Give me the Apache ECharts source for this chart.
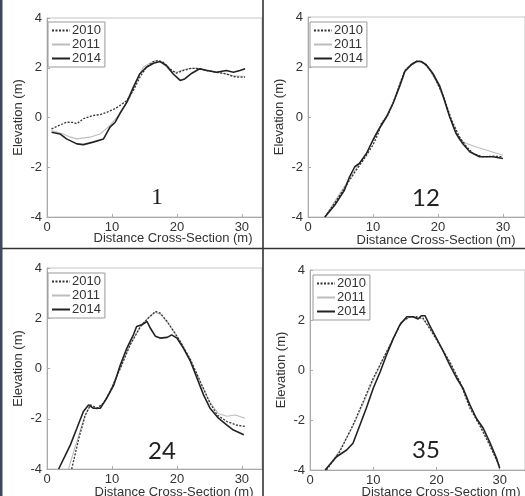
<!DOCTYPE html>
<html>
<head>
<meta charset="utf-8">
<script src="https://cdn.jsdelivr.net/npm/echarts@6/dist/echarts.min.js"></script>
<style>
  html, body { margin: 0; padding: 0; background: #fff; }
  #main { width: 525px; height: 496px; }
</style>
</head>
<body>
<div id="main"></div>
<script>
// 年份 / 刻度
const years = ['2010', '2011', '2014'];
const xTicks = [0, 10, 20, 30];
const yTicks = [-4, -2, 0, 2, 4];
const panelLabels = ['1', '12', '24', '35'];

// 剖面 1
const p1_2010 = [[0.7,-0.46],[2,-0.3],[3,-0.19],[4,-0.2],[4.6,-0.25],[5.6,-0.05],[7.1,0.08],[8.2,0.12],[9.2,0.21],[10.2,0.32],[11,0.44],[12.3,0.68],[13.3,1.09],[14.3,1.62],[15.3,2.02],[16.4,2.25],[17.1,2.29],[17.9,2.22],[18.9,1.96],[19.9,1.78],[21,1.89],[22.3,1.98],[23.5,1.96],[24.6,1.89],[26.1,1.82],[27.6,1.75],[28.7,1.65],[29.5,1.62],[30.5,1.62]];
const p1_2011 = [[0.7,-0.52],[2.5,-0.66],[3.5,-0.78],[4.6,-0.86],[6.6,-0.79],[8.2,-0.66],[9.7,-0.32],[11.2,0.15],[12.8,0.82],[13.8,1.49],[14.8,2.02],[16.1,2.22],[16.9,2.29],[17.9,2.16],[18.9,1.89],[19.9,1.82],[21.5,1.96],[23,1.98],[24.6,1.92],[26.1,1.82],[27.6,1.75],[28.7,1.68],[30.5,1.65]];
const p1_2014 = [[0.7,-0.59],[2,-0.66],[3,-0.86],[4.6,-1.06],[5.6,-1.09],[7.1,-0.99],[8.7,-0.86],[9.7,-0.39],[10.5,-0.19],[11.2,0.15],[12.3,0.62],[13.3,1.22],[14.3,1.76],[15.3,2.02],[16.4,2.18],[17.4,2.25],[18.4,2.09],[19.4,1.76],[20.5,1.49],[21.2,1.55],[22.3,1.78],[23.5,1.96],[24.6,1.89],[26.1,1.82],[27.6,1.89],[28.7,1.82],[29.7,1.89],[30.5,1.96]];

// 剖面 12
const p2_2010 = [[2.6,-4],[4.4,-3.33],[6.4,-2.53],[7.4,-2.13],[8.5,-1.73],[10,-1.12],[10.8,-0.66],[11.3,-0.25],[12.3,0.08],[13.1,0.55],[14.1,1.3],[14.9,1.85],[15.9,2.1],[16.9,2.25],[17.6,2.2],[18.4,2.02],[19.4,1.65],[20.8,0.85],[22.1,-0.12],[23.3,-0.79],[24.4,-1.19],[25.4,-1.46],[26.9,-1.59],[28.5,-1.57],[30,-1.59]];
const p2_2011 = [[2.6,-4],[4.9,-3.06],[6.9,-2.26],[9,-1.46],[10.5,-0.66],[12.1,0.05],[13.1,0.6],[14.1,1.3],[15,1.9],[16,2.15],[16.9,2.25],[17.8,2.15],[18.9,1.8],[20.2,1.2],[21.3,0.4],[22.5,-0.52],[23.3,-0.92],[24.4,-1.06],[25.9,-1.2],[27.4,-1.32],[30,-1.53]];
const p2_2014 = [[2.6,-4],[4.1,-3.53],[5.6,-2.93],[6.4,-2.39],[7.2,-1.99],[7.9,-1.86],[9,-1.46],[10,-0.92],[11,-0.45],[12.1,0.01],[13.1,0.55],[14.1,1.22],[14.9,1.82],[15.9,2.09],[16.7,2.22],[17.4,2.22],[18.2,2.09],[19.2,1.75],[20.3,1.22],[21,0.68],[21.8,0.01],[22.8,-0.66],[23.8,-1.06],[24.9,-1.39],[26.4,-1.59],[28.5,-1.59],[30,-1.66]];

// 剖面 24
const p3_2010 = [[3.8,-4],[4.9,-2.78],[5.9,-1.85],[6.7,-1.45],[7.7,-1.58],[8.7,-1.38],[9.7,-0.92],[11.3,0.01],[12.8,0.94],[14.4,1.67],[15.6,2.01],[16.7,2.27],[17.4,2.21],[18.5,1.87],[19.5,1.48],[20.5,1.08],[22.1,0.35],[23.6,-0.52],[25.1,-1.38],[26.2,-1.85],[27.7,-2.11],[29.2,-2.25],[30.5,-2.31]];
const p3_2011 = [[3.3,-4],[4.6,-2.9],[5.8,-1.9],[6.6,-1.5],[7.7,-1.62],[8.8,-1.35],[9.8,-0.85],[11.3,0.05],[12.8,0.95],[14.4,1.7],[15.6,2.02],[16.7,2.24],[17.5,2.15],[18.6,1.82],[19.6,1.45],[20.6,1.05],[22.1,0.3],[23.6,-0.55],[25.1,-1.35],[26.4,-1.8],[27.7,-1.9],[29,-1.85],[30.5,-1.98]];
const p3_2014 = [[1.8,-4],[3.6,-3.04],[4.6,-2.38],[5.6,-1.71],[6.4,-1.45],[7.1,-1.58],[8.2,-1.58],[9.2,-1.18],[10.3,-0.65],[11.3,0.15],[12.3,0.81],[13.3,1.34],[13.8,1.67],[14.6,1.74],[15.4,1.87],[15.9,1.61],[16.7,1.28],[17.4,1.21],[18.5,1.24],[19.2,1.34],[20,1.21],[21,0.81],[22.1,0.28],[23.1,-0.39],[24.1,-1.05],[25.1,-1.58],[26.4,-1.98],[27.7,-2.25],[28.7,-2.45],[30.3,-2.64]];

// 剖面 35
const p4_2010 = [[2.6,-4],[4.7,-3.27],[6.8,-2.2],[8.4,-1.27],[10,-0.33],[11.6,0.47],[13.2,1.27],[14.5,1.93],[15.8,2.13],[16.8,2.13],[17.9,2.07],[18.9,1.67],[20.5,1],[22.1,0.33],[23.7,-0.47],[25.3,-1.53],[26.8,-2.2],[28.4,-3],[30,-3.87]];
const p4_2011 = [[2.4,-4],[4.5,-3.3],[6.7,-2.3],[8.4,-1.35],[10,-0.4],[11.6,0.45],[13.2,1.3],[14.4,1.9],[15.6,2.1],[16.8,2.1],[17.8,2.05],[18.9,1.7],[20.5,1.05],[22.1,0.3],[23.7,-0.5],[25.3,-1.45],[26.8,-2.15],[28.4,-2.95],[30,-3.9]];
const p4_2014 = [[2.4,-4],[4.2,-3.47],[5.8,-3.2],[6.8,-2.93],[7.9,-2.2],[8.9,-1.53],[10,-0.73],[11.1,-0.07],[12.1,0.6],[13.2,1.27],[14.2,1.8],[15.3,2.13],[16.3,2.13],[17.1,2.04],[17.6,2.17],[18.2,2.17],[18.9,1.8],[20,1.27],[21.1,0.73],[22.1,0.2],[23.2,-0.33],[24.2,-0.73],[25.3,-1.4],[26.3,-1.93],[27.4,-2.33],[28.4,-2.87],[29.5,-3.53],[30,-3.93]];

const panelData = [
  [p1_2010, p1_2011, p1_2014],
  [p2_2010, p2_2011, p2_2014],
  [p3_2010, p3_2011, p3_2014],
  [p4_2010, p4_2011, p4_2014]
];

// 版面
const grids = [
  {left: 47, top: 18, width: 215, height: 199},
  {left: 308, top: 17, width: 217, height: 200},
  {left: 47, top: 268, width: 215, height: 201},
  {left: 310, top: 270, width: 215, height: 200}
];
const xMax = [33.1, 33.4, 33.1, 34];
const legendPos = [[48, 22], [310, 22], [48, 273], [313, 275]];
const xNamePos = [[173, 238], [436, 240], [174, 492], [441, 492]];
const numPos = [[157, 198], [426, 198], [162, 451], [426, 450]];

const lineStyles = {
  '2010': {color: '#333', width: 1.3, type: [2, 1.5]},
  '2011': {color: '#bdbdbd', width: 1.1, type: 'solid'},
  '2014': {color: '#222', width: 1.6, type: 'solid'}
};
const drawOrder = [1, 0, 2];

const font = 'Liberation Sans, Arial, sans-serif';

const option = {
  backgroundColor: '#fff',
  animation: false,
  grid: grids.map(g => Object.assign({
    show: true, borderColor: '#c4c4c4', borderWidth: 1,
    containLabel: false, outerBoundsMode: 'none'
  }, g)),
  xAxis: grids.map((g, i) => ({
    type: 'value', gridIndex: i, min: 0, max: xMax[i],
    axisLine: {show: true, onZero: false, lineStyle: {color: '#aaa'}},
    axisTick: {show: true, inside: true, length: 3, customValues: xTicks, lineStyle: {color: '#aaa'}},
    axisLabel: {customValues: xTicks, margin: 4, fontSize: 13, color: '#333', fontFamily: font},
    splitLine: {show: false}
  })),
  yAxis: grids.map((g, i) => ({
    type: 'value', gridIndex: i, min: -4, max: 4, interval: 2,
    name: 'Elevation (m)', nameLocation: 'middle', nameGap: 22,
    nameTextStyle: {fontSize: 13, color: '#333', fontFamily: font},
    axisLine: {show: true, onZero: false, lineStyle: {color: '#aaa'}},
    axisTick: {show: true, inside: true, length: 3, lineStyle: {color: '#aaa'}},
    axisLabel: {margin: 5, fontSize: 13, color: '#333', fontFamily: font},
    splitLine: {show: false}
  })),
  legend: legendPos.map(p => ({
    data: years, orient: 'vertical', left: p[0], top: p[1],
    itemGap: 1, itemWidth: 18, itemHeight: 12,
    padding: [2, 4, 2, 3], borderColor: '#999', borderWidth: 1,
    backgroundColor: '#fff', selectedMode: false,
    itemStyle: {opacity: 0},
    textStyle: {fontSize: 13, color: '#333', fontFamily: font, padding: [0, 0, 0, -3]}
  })),
  series: [],
  graphic: []
};

panelData.forEach((sets, i) => {
  drawOrder.forEach(k => {
    option.series.push({
      name: years[k], type: 'line', xAxisIndex: i, yAxisIndex: i,
      data: sets[k], symbol: 'none', showSymbol: false,
      lineStyle: lineStyles[years[k]], itemStyle: {color: lineStyles[years[k]].color},
      z: k === 2 ? 4 : 3
    });
  });
  option.graphic.push({
    type: 'text', x: xNamePos[i][0], y: xNamePos[i][1],
    style: {text: 'Distance Cross-Section (m)', font: '13px ' + font, fill: '#333',
      textAlign: 'center', textVerticalAlign: 'middle'}
  });
  option.graphic.push({
    type: 'text', x: numPos[i][0], y: numPos[i][1],
    style: {text: panelLabels[i],
      font: i === 0 ? '24px Liberation Serif, serif' : '24px Lato, Open Sans, sans-serif',
      fill: '#222', textAlign: 'center', textVerticalAlign: 'middle'}
  });
});

// 分隔线
option.graphic.push(
  {type: 'line', shape: {x1: 263, y1: 0, x2: 263, y2: 496}, style: {stroke: '#333', lineWidth: 1.6}, z: 100},
  {type: 'line', shape: {x1: 0, y1: 248.5, x2: 525, y2: 248.5}, style: {stroke: '#333', lineWidth: 1.6}, z: 100},
  {type: 'rect', shape: {x: 0, y: 0, width: 2.5, height: 496}, style: {fill: '#3d4b5c'}, z: 100}
);

const myChart = echarts.init(document.getElementById('main'));
myChart.setOption(option);
</script>
</body>
</html>
